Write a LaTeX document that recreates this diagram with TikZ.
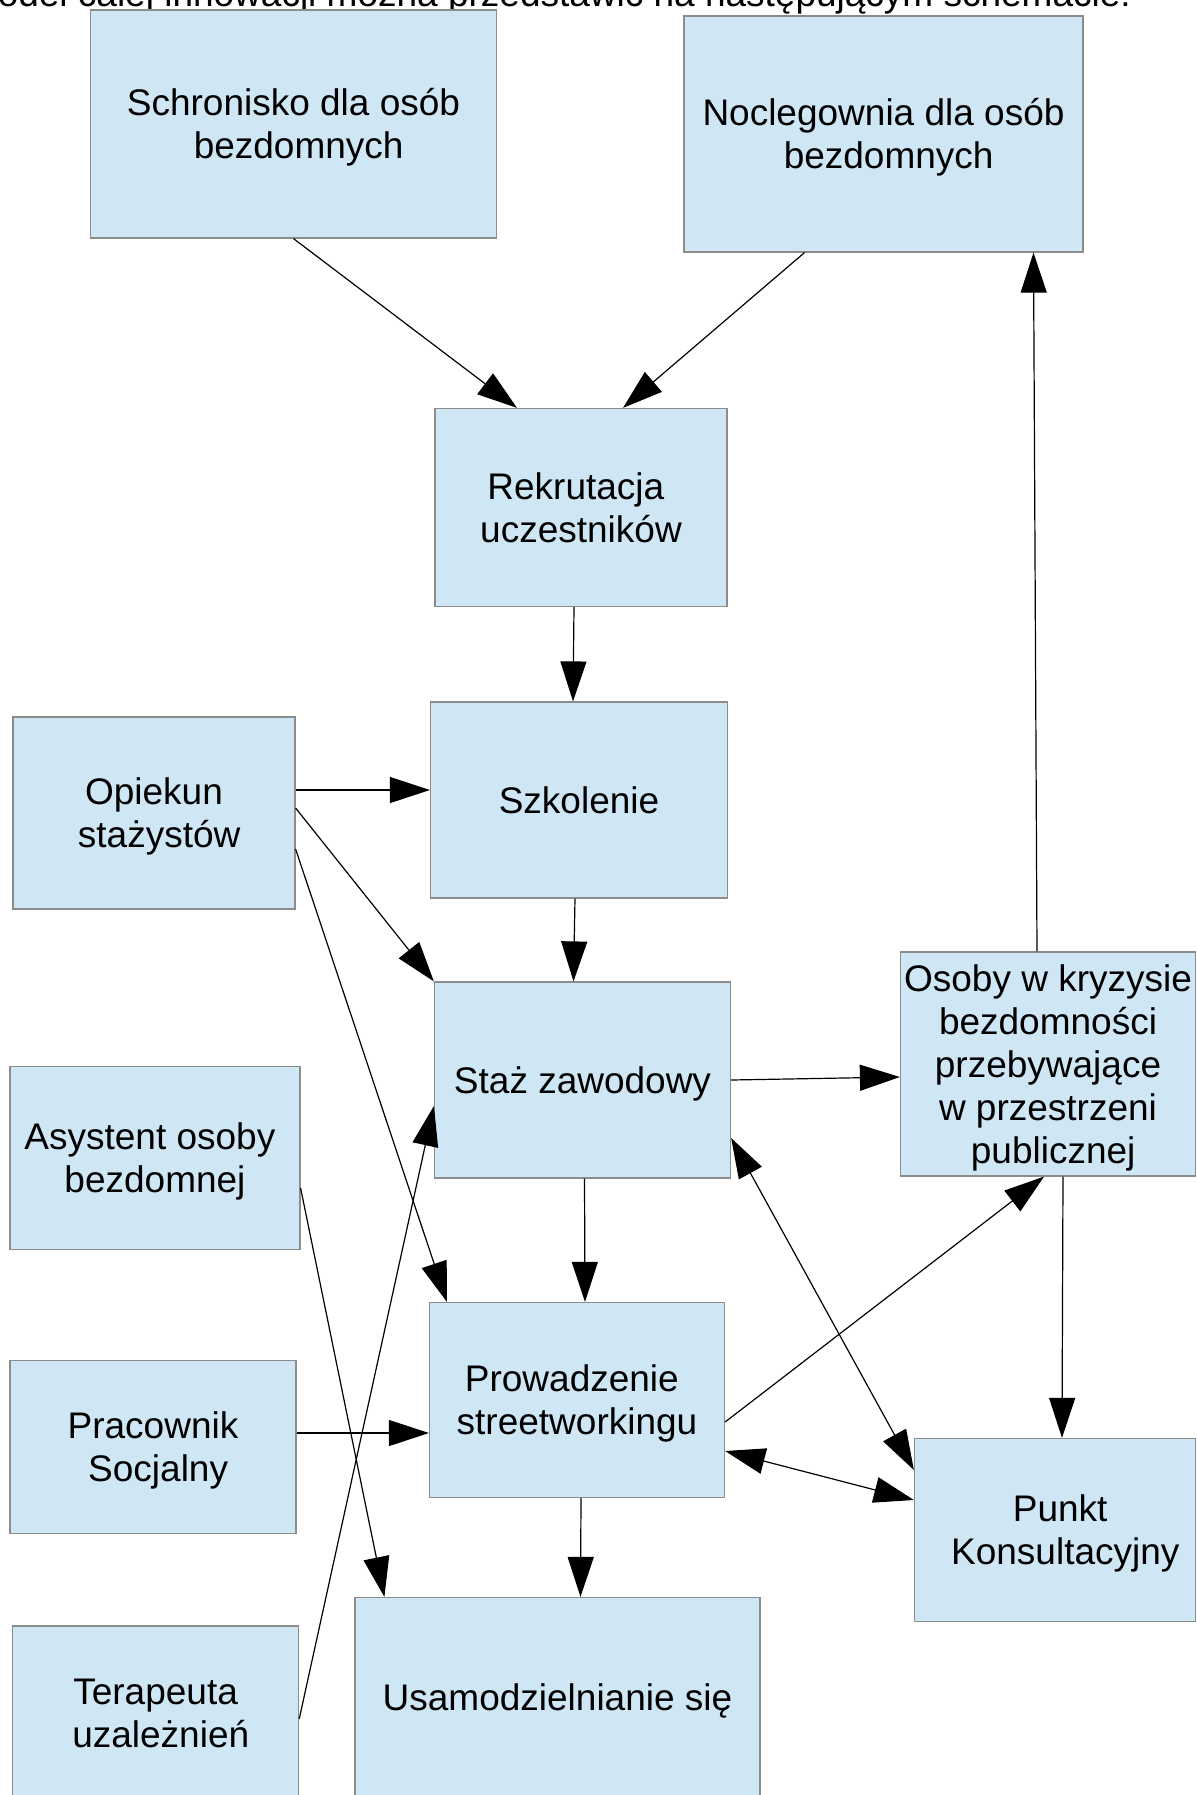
\documentclass[tikz,border=0pt]{standalone}
\usepackage{fontspec}
\setmainfont{Liberation Sans}
\usetikzlibrary{arrows.meta}
\definecolor{boxfill}{HTML}{CFE7F5}
\definecolor{boxline}{HTML}{8C8C8C}
\newcommand\padsp{\hspace*{0.278em}}
\newcommand\topstrut{\rule{0pt}{17.3pt}}
\newcommand\botstrut{\rule[-3.9pt]{0pt}{3.9pt}}
\begin{document}
\begin{tikzpicture}[x=0.5pt,y=-0.5pt,
    font=\fontsize{18.5}{21.5}\selectfont,
    box/.style={draw=boxline,fill=boxfill,line width=0.6pt,align=center,inner sep=0pt,
      execute at begin node=\topstrut,execute at end node=\botstrut},
    link/.style={-{Triangle[length=20pt,width=13pt]},line width=0.6pt},
    twoway/.style={{Triangle[length=20pt,width=13pt]}-{Triangle[length=20pt,width=13pt]}}]
  \useasboundingbox (0,0) rectangle (1197,1795);
  \node[anchor=base east] (title) at (1138,6.5) {Model całej innowacji można przedstawić na następującym schemacie:};
  \node[box,minimum width=203pt,minimum height=114pt] (schronisko) at (293.5,124) {\topstrut Schronisko dla osób\\\padsp bezdomnych};
  \node[box,minimum width=199.5pt,minimum height=118pt] (noclegownia) at (883.5,134) {\topstrut Noclegownia dla osób\\\padsp bezdomnych};
  \node[box,minimum width=146pt,minimum height=99pt] (rekrutacja) at (581,507.5) {\topstrut Rekrutacja\padsp\\uczestników};
  \node[box,minimum width=148.5pt,minimum height=98pt] (szkolenie) at (579,800) {Szkolenie};
  \node[box,minimum width=141pt,minimum height=96pt] (opiekun) at (154,813) {\topstrut Opiekun\\\padsp stażystów};
  \node[box,minimum width=148pt,minimum height=98pt] (staz) at (582.5,1080) {Staż zawodowy};
  \node[box,minimum width=147.5pt,minimum height=112pt] (osoby) at (1048,1064) {\topstrut Osoby w kryzysie\\bezdomności\padsp\\przebywające\padsp\\w przestrzeni\padsp\\\padsp publicznej};
  \node[box,minimum width=145pt,minimum height=91.5pt] (asystent) at (155,1158) {\topstrut Asystent osoby\padsp\\bezdomnej};
  \node[box,minimum width=147.5pt,minimum height=97.5pt] (prowadzenie) at (577,1400) {\topstrut Prowadzenie\padsp\\streetworkingu};
  \node[box,minimum width=143pt,minimum height=86.5pt] (pracownik) at (153,1447) {\topstrut Pracownik\\\padsp Socjalny};
  \node[box,minimum width=140.5pt,minimum height=91.5pt] (punkt) at (1055,1530) {\topstrut\padsp Punkt\\\padsp\padsp Konsultacyjny};
  \node[box,minimum width=143pt,minimum height=87pt] (terapeuta) at (155.6,1713) {\topstrut Terapeuta\\\padsp uzależnień};
  \node[box,minimum width=202.5pt,minimum height=100pt] (usamodzielnianie) at (557.5,1697.5) {Usamodzielnianie się};
  \begin{scope}[link]
    \draw (schronisko.south) to ([xshift=-32pt]rekrutacja.north);
    \draw ([xshift=-39.5pt]noclegownia.south) to ([xshift=21pt]rekrutacja.north);
    \draw ([xshift=-3.5pt]rekrutacja.south) to ([xshift=-3pt]szkolenie.north);
    \draw ([yshift=11.5pt]opiekun.east) to ([yshift=5pt]szkolenie.west);
    \draw ([yshift=2.5pt]opiekun.east) to (staz.north west);
    \draw ([yshift=-18pt]opiekun.east) to ([xshift=9pt]prowadzenie.north west);
    \draw ([xshift=-2pt]szkolenie.south) to ([xshift=-4.5pt]staz.north);
    \draw (staz.east) to ([yshift=-6.5pt]osoby.west);
    \draw ([xshift=-5.5pt]osoby.north) to ([xshift=75pt]noclegownia.south);
    \draw ([xshift=1pt]staz.south) to ([xshift=4pt]prowadzenie.north);
    \draw ([yshift=-3pt]terapeuta.east) to ([yshift=-13pt]staz.west);
    \draw ([yshift=-15pt]asystent.east) to ([xshift=15pt]usamodzielnianie.north west);
    \draw ([yshift=7pt]pracownik.east) to ([yshift=-16.5pt]prowadzenie.west);
    \draw ([yshift=-11pt]prowadzenie.east) to ([xshift=-2pt]osoby.south);
    \draw ([xshift=7.5pt]osoby.south) to ([xshift=3.5pt]punkt.north);
    \draw[twoway] ([yshift=-29pt]staz.east) to ([yshift=30pt]punkt.west);
    \draw[twoway] ([yshift=-25.5pt]prowadzenie.east) to ([yshift=15pt]punkt.west);
    \draw ([xshift=2pt]prowadzenie.south) to ([xshift=11.5pt]usamodzielnianie.north);
  \end{scope}
\end{tikzpicture}
\end{document}
